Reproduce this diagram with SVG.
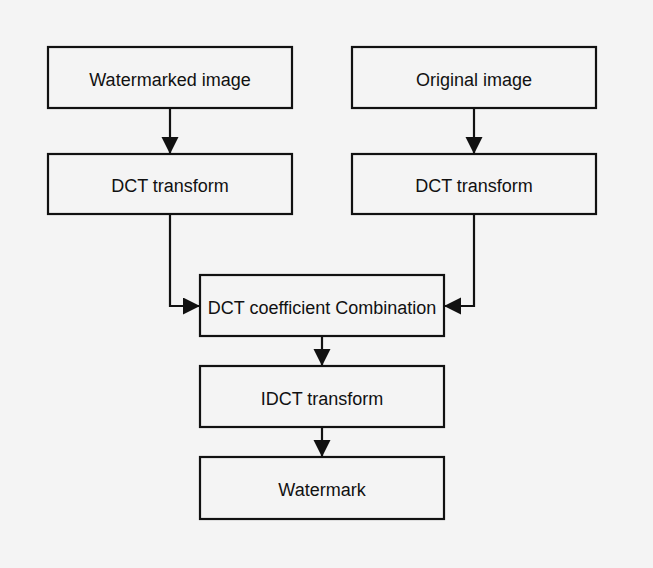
<svg xmlns="http://www.w3.org/2000/svg" width="653" height="568" viewBox="0 0 653 568">
  <defs>
    <marker id="arrow" markerUnits="userSpaceOnUse" markerWidth="18" markerHeight="18" refX="17" refY="8.5" orient="auto">
      <path d="M0,0 L17,8.5 L0,17 Z" fill="#111"/>
    </marker>
  </defs>
  <style>
    .box { fill: #f4f4f4; stroke: #111; stroke-width: 2.2; }
    .lbl { font-family: "Liberation Sans", Arial, sans-serif; font-size: 18px; fill: #111; text-anchor: middle; }
    .conn { fill: none; stroke: #111; stroke-width: 2.2; marker-end: url(#arrow); }
  </style>
  <rect x="0" y="0" width="653" height="568" fill="#f4f4f4"/>
  <g id="watermarked-image">
    <rect class="box" x="48" y="47" width="244" height="61"/>
    <text class="lbl" x="170" y="86">Watermarked image</text>
  </g>
  <g id="original-image">
    <rect class="box" x="352" y="47" width="244" height="61"/>
    <text class="lbl" x="474" y="86">Original image</text>
  </g>
  <g id="dct-left">
    <rect class="box" x="48" y="154" width="244" height="60"/>
    <text class="lbl" x="170" y="192">DCT transform</text>
  </g>
  <g id="dct-right">
    <rect class="box" x="352" y="154" width="244" height="60"/>
    <text class="lbl" x="474" y="192">DCT transform</text>
  </g>
  <g id="combination">
    <rect class="box" x="200" y="275" width="244" height="61"/>
    <text class="lbl" x="322" y="314">DCT coefficient Combination</text>
  </g>
  <g id="idct">
    <rect class="box" x="200" y="366" width="244" height="61"/>
    <text class="lbl" x="322" y="405">IDCT transform</text>
  </g>
  <g id="watermark">
    <rect class="box" x="200" y="457" width="244" height="62"/>
    <text class="lbl" x="322" y="496">Watermark</text>
  </g>
  <g id="connectors">
    <path class="conn" d="M170,108 L170,154"/>
    <path class="conn" d="M474,108 L474,154"/>
    <path class="conn" d="M170,214 L170,306 L200,306"/>
    <path class="conn" d="M474,214 L474,306 L444,306"/>
    <path class="conn" d="M322,336 L322,366"/>
    <path class="conn" d="M322,427 L322,457"/>
  </g>
</svg>
